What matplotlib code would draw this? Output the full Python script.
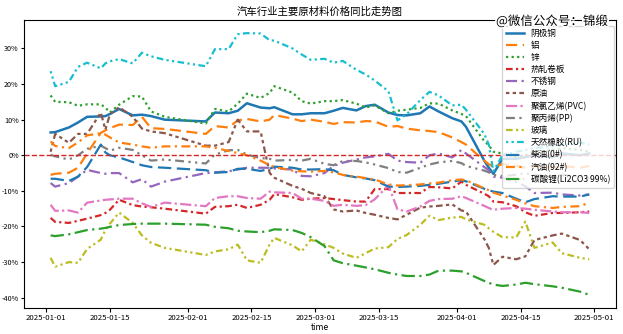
import matplotlib
matplotlib.use("Agg")
import matplotlib.pyplot as plt
import matplotlib.dates as mdates
import matplotlib.patheffects as pe
from matplotlib.ticker import FuncFormatter
import pandas as pd

plt.rcParams['font.family'] = ['Noto Sans CJK SC', 'DejaVu Sans']
plt.rcParams['axes.unicode_minus'] = False

dates = pd.to_datetime([
    "2025-01-02", "2025-01-03", "2025-01-06", "2025-01-08", "2025-01-10", "2025-01-13",
    "2025-01-14", "2025-01-15", "2025-01-17", "2025-01-20", "2025-01-22", "2025-01-24",
    "2025-01-27",
    "2025-02-05", "2025-02-07", "2025-02-10", "2025-02-12", "2025-02-14", "2025-02-17",
    "2025-02-19", "2025-02-20", "2025-02-24", "2025-02-26", "2025-02-28",
    "2025-03-03", "2025-03-05", "2025-03-07", "2025-03-10", "2025-03-12", "2025-03-14",
    "2025-03-17", "2025-03-19", "2025-03-21", "2025-03-24", "2025-03-26", "2025-03-28",
    "2025-03-31",
    "2025-04-02", "2025-04-03", "2025-04-07", "2025-04-08", "2025-04-09", "2025-04-11",
    "2025-04-14", "2025-04-16", "2025-04-18", "2025-04-22", "2025-04-24", "2025-04-28",
    "2025-04-30",
])

# Year-on-year price change, %
copper = [6.4, 6.5, 7.8, 9.2, 10.8, 10.9, 11.0, 11.6, 13.0, 11.2, 11.4, 11.0, 10.0,
          9.5, 12.0, 11.8, 12.5, 14.6, 13.4, 13.2, 13.5, 11.5, 11.5, 11.8,
          11.8, 12.5, 13.3, 12.6, 13.8, 14.2, 12.0, 11.3, 11.2, 11.8, 13.7, 12.3, 10.4,
          9.5, 8.0, -1.5, -3.5, -5.2, -1.0, -1.0, -0.5, 0.0, -0.5, 0.5, 0.0, 0.5]
aluminum = [-5.5, -5.2, -4.9, -3.5, 0.5, 6.3, 7.0, 7.6, 8.6, 8.5, 10.8, 7.6, 7.4,
            6.0, 8.2, 7.8, 9.8, 10.2, 9.5, 10.0, 11.3, 10.3, 9.6, 10.0,
            9.4, 8.8, 9.3, 9.2, 9.6, 9.5, 8.0, 8.2, 7.5, 7.0, 6.8, 6.5, 5.0,
            3.7, 3.0, -1.5, -2.5, -3.2, -2.5, -3.0, -3.5, -3.0, -3.5, -3.0, -3.5, -3.0]
zinc = [16.8, 15.0, 14.9, 13.9, 14.3, 14.3, 13.4, 12.0, 14.2, 16.6, 16.5, 12.3, 10.8,
        8.9, 13.0, 12.3, 14.5, 17.3, 16.1, 17.5, 19.4, 17.6, 15.2, 14.5,
        15.2, 15.2, 15.5, 14.5, 13.4, 14.0, 11.8, 12.5, 12.8, 13.3, 14.6, 14.5, 12.6,
        11.6, 11.0, 4.0, 2.8, 1.0, 0.5, -0.5, 0.0, 1.0, 1.5, 2.0, 1.5, 1.0]
hrc = [-17.6, -18.7, -19.0, -18.4, -17.8, -16.8, -16.2, -15.3, -12.5, -14.0, -14.4, -14.6, -15.0,
       -16.4, -14.5, -14.3, -13.9, -14.8, -13.9, -12.5, -10.9, -11.8, -12.5, -12.2,
       -12.0, -12.3, -12.6, -13.0, -13.0, -9.5, -9.5, -10.6, -10.6, -10.6, -8.9, -9.0, -9.3,
       -7.4, -8.3, -10.8, -11.5, -13.0, -13.2, -14.3, -16.0, -17.0, -16.2, -16.2, -16.0, -15.8]
stainless = [-7.8, -8.8, -7.8, -6.0, -4.1, -5.0, -5.2, -5.0, -5.0, -7.6, -6.7, -8.8, -7.4,
             -5.0, -4.8, -4.5, -4.0, -3.5, -3.5, -3.5, -3.7, -4.0, -5.8, -5.9,
             -5.0, -3.0, -2.1, -1.2, -0.6, -0.3, 0.4, -1.5, -1.9, -2.1, 0.0, 0.5, -0.6,
             1.5, 0.5, -3.3, -4.2, -6.0, -6.3, -7.5, -8.7, -10.6, -10.5, -11.0, -11.3, -11.0]
crude = [1.0, 6.0, 3.5, 6.0, 6.0, 12.0, 7.2, 11.5, 13.5, 10.8, 7.5, 6.7, 6.2,
         2.7, 2.7, 3.7, 10.0, 6.7, 6.7, -5.0, -6.3, -8.6, -9.4, -10.6,
         -11.5, -15.2, -15.8, -15.5, -16.2, -16.7, -17.6, -18.0, -16.7, -14.7, -14.4, -14.2, -13.8,
         -15.5, -15.8, -23.5, -26.0, -30.8, -28.5, -29.2, -28.4, -23.8, -22.5, -22.0, -23.8, -26.4]
pvc = [-13.9, -15.6, -15.5, -16.1, -13.3, -12.7, -12.5, -12.4, -12.2, -12.2, -13.5, -14.5, -13.3,
       -14.3, -12.0, -11.5, -11.5, -12.0, -12.2, -10.2, -10.4, -10.6, -12.2, -12.2,
       -12.8, -14.2, -13.9, -14.2, -14.0, -12.4, -8.4, -15.2, -15.8, -14.4, -12.8, -12.3, -12.2,
       -11.5, -12.0, -14.2, -14.8, -15.3, -15.0, -14.8, -15.0, -15.3, -15.8, -16.0, -16.0, -16.2]
pp = [0.1, -0.3, -1.2, 0.0, 1.8, 2.7, 2.0, 1.3, 2.1, 1.5, 0.0, -1.5, -1.2,
      -2.3, 0.2, 1.4, 1.5, 0.2, -0.8, -1.0, -1.5, -1.3, -1.5, -1.0,
      -2.4, -2.8, -1.6, -1.6, -2.0, -2.6, -3.6, -4.7, -4.9, -3.5, -2.6, -2.0, -1.6,
      -2.2, -3.0, -4.3, -4.8, -5.5, -5.8, -5.5, -5.0, -5.5, -6.0, -5.5, -6.0, -6.5]
glass = [-28.8, -31.3, -30.0, -30.2, -26.3, -23.7, -21.0, -19.2, -16.1, -19.0, -22.5, -24.6, -26.0,
         -28.0, -27.0, -26.4, -25.1, -29.5, -30.2, -25.0, -23.2, -25.3, -27.0, -23.7,
         -25.0, -26.0, -27.6, -28.8, -27.5, -26.2, -25.8, -23.5, -22.4, -19.5, -17.0, -18.2, -17.5,
         -17.3, -18.0, -19.5, -20.5, -21.5, -23.0, -23.1, -18.6, -26.0, -24.5, -27.5, -28.8, -29.2]
rubber = [23.6, 19.4, 20.6, 24.8, 26.0, 24.4, 25.8, 26.4, 27.0, 25.8, 28.8, 27.8, 26.8,
          25.0, 29.8, 29.8, 34.0, 34.3, 34.2, 32.3, 32.2, 30.0, 28.3, 26.8,
          27.1, 26.0, 26.5, 24.0, 22.7, 21.0, 18.0, 9.8, 11.5, 15.5, 17.8, 16.8, 14.0,
          14.2, 12.8, 6.0, 3.0, -4.5, 0.0, 1.0, 1.5, 2.0, 2.5, 3.0, 3.5, 3.0]
diesel = [-6.6, -6.6, -7.2, -6.0, -3.3, 3.0, 0.8, 0.0, -0.6, -1.9, -2.8, -3.3, -3.5,
          -4.2, -4.9, -4.7, -3.8, -3.8, -4.4, -3.8, -3.2, -3.5, -4.0, -4.0,
          -3.9, -4.2, -5.5, -6.2, -6.5, -7.0, -8.8, -8.9, -8.8, -8.6, -8.3, -8.0, -7.4,
          -7.0, -7.3, -9.4, -9.8, -10.2, -10.6, -12.2, -13.2, -12.3, -11.5, -11.6, -11.6, -11.0]
gasoline = [3.9, 2.6, 2.0, 3.6, 5.6, 6.2, 5.8, 5.0, 3.6, 3.0, 2.5, 2.1, 2.5,
            2.5, 2.1, 1.2, 0.6, 0.0, -1.5, -2.8, -3.3, -4.3, -4.5, -4.6,
            -4.4, -4.8, -5.5, -6.0, -6.4, -6.8, -8.2, -8.5, -8.4, -8.2, -7.9, -7.7, -7.0,
            -6.8, -7.0, -9.3, -9.8, -10.5, -11.3, -12.5, -13.5, -14.3, -14.8, -14.5, -14.3, -13.3]
lithium = [-22.5, -22.7, -22.2, -21.6, -21.0, -20.6, -20.4, -20.1, -19.6, -19.3, -19.2, -19.2, -19.2,
           -19.5, -20.1, -20.5, -21.2, -21.4, -21.6, -21.2, -20.8, -21.0, -21.8, -23.0,
           -25.5, -29.5, -30.3, -31.0, -31.5, -32.0, -33.0, -33.5, -33.9, -33.9, -33.5, -32.4, -32.4,
           -32.6, -33.0, -35.3, -35.8, -36.3, -36.7, -36.3, -35.8, -36.2, -36.8, -37.2, -38.3, -39.2]

labels = ["阴极铜", "铝", "锌", "热轧卷板", "不锈钢", "原油", "聚氯乙烯(PVC)", "聚丙烯(PP)",
          "玻璃", "天然橡胶(RU)", "柴油(0#)", "汽油(92#)", "碳酸锂(Li2CO3 99%)"]
series = [copper, aluminum, zinc, hrc, stainless, crude, pvc, pp,
          glass, rubber, diesel, gasoline, lithium]

colors = ["C0", "C1", "C2", "C3", "C4", "C5", "C6", "C7", "C8", "C9", "C0", "C1", "C2"]
styles = ["-", (0, (5, 2.5)), (0, (1, 1.5)), (0, (3, 1.5, 1, 1.5)), (0, (5, 2, 1, 2)),
          (0, (1.5, 1.5, 1.5, 1.5, 3, 1.5)), (0, (5, 1.5, 1, 1.5)), (0, (4, 2, 1, 2, 1, 2)),
          (0, (3, 1.5, 1, 1.5, 1, 1.5)), (0, (1, 1.5, 1, 1.5, 3, 1.5)), (0, (6, 2.5)),
          (0, (4, 2, 1, 2)), (0, (6, 2, 1, 2))]

fig = plt.figure(figsize=(6.23, 3.34), dpi=100)
ax = fig.add_axes([0.038, 0.078, 0.951, 0.862])

for vals, lab, c, ls in zip(series, labels, colors, styles):
    lw = 1.8 if ls == "-" else 1.6
    ax.plot(dates, vals, color=c, linestyle=ls, linewidth=lw, label=lab)

ax.axhline(0, color="C3", linestyle="--", linewidth=1.0)

ax.xaxis.set_major_locator(mdates.DayLocator(bymonthday=[1, 15]))
ax.xaxis.set_major_formatter(mdates.DateFormatter("%Y-%m-%d"))
ax.yaxis.set_major_formatter(FuncFormatter(lambda v, p: f"{v:.0f}%"))
ax.tick_params(labelsize=5.6, length=3, width=0.8, pad=1.5)
ax.tick_params(axis="y", labelsize=5.2, length=2.5, pad=1.0)
ax.set_xlabel("time", fontsize=6.2, labelpad=0.5)
ax.set_title("汽车行业主要原材料价格同比走势图", fontsize=7.5, pad=4)

ax.legend(loc="upper right", bbox_to_anchor=(1.0, 0.99), fontsize=6.2, labelspacing=0.36,
          handlelength=2.1, borderaxespad=0.3, handletextpad=0.8, borderpad=0.4)

fig.text(0.886, 0.937, "@微信公众号：锦缎", fontsize=9, ha="center", va="center",
         color="black",
         path_effects=[pe.withStroke(linewidth=2.5, foreground="white")])

fig.savefig("out.png", dpi=100)
